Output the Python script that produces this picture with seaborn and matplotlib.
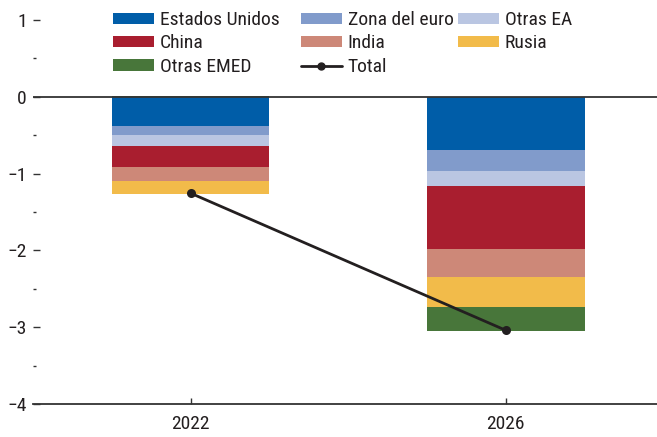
import matplotlib
matplotlib.use("Agg")
import matplotlib.pyplot as plt
from matplotlib.ticker import MultipleLocator
from matplotlib.patches import Patch
from matplotlib.lines import Line2D
import numpy as np
import seaborn as sns

years = ["2022", "2026"]
series = ["Estados Unidos", "Zona del euro", "Otras EA", "China", "India", "Rusia", "Otras EMED"]
estados_unidos = [-0.38, -0.69]
zona_euro = [-0.12, -0.27]
otras_ea = [-0.14, -0.20]
china = [-0.28, -0.82]
india = [-0.17, -0.37]
rusia = [-0.18, -0.39]
otras_emed = [0.015, -0.31]
total = [-1.255, -3.04]
colors = ["#005DA8", "#819BCB", "#BAC6E2", "#A91E2F", "#CD8878", "#F2BB4A", "#48763A"]

values = [estados_unidos, zona_euro, otras_ea, china, india, rusia, otras_emed]

sns.set_theme(style="white")
plt.rcParams["font.family"] = ["Roboto Condensed", "DejaVu Sans"]
text_color = "#231F20"

fig = plt.figure(figsize=(6.57, 4.37), dpi=100)
ax = fig.add_axes([33 / 657, 33 / 437, 1 - 33 / 657, (404 - 20) / 437])

neg_base = np.zeros(len(years))
pos_base = np.zeros(len(years))
for name, vals, c in zip(series, values, colors):
    vals = np.array(vals, dtype=float)
    bottoms = np.where(vals < 0, neg_base, pos_base)
    sns.barplot(x=years, y=vals, bottom=bottoms, color=c, width=0.5,
                saturation=1, linewidth=0, ax=ax, zorder=2)
    neg_base = neg_base + np.where(vals < 0, vals, 0)
    pos_base = pos_base + np.where(vals > 0, vals, 0)

sns.pointplot(x=years, y=total, color="#231F20", markers="o", markersize=5,
              linewidth=2, ax=ax, zorder=4)

ax.axhline(0, color="#333333", lw=1.3, zorder=3)
ax.set_ylim(-4, 1)
ax.set_xlim(-0.5, 1.48)
ax.yaxis.set_major_locator(MultipleLocator(1))
ax.yaxis.set_minor_locator(MultipleLocator(0.5))
for s in ["left", "right", "top"]:
    ax.spines[s].set_visible(False)
ax.spines["bottom"].set_color("#333333")
ax.spines["bottom"].set_linewidth(1.3)
ax.tick_params(axis="y", which="major", direction="in", length=5, width=1,
               color="#333333", pad=4.5, labelsize=14, labelcolor=text_color, left=True)
ax.tick_params(axis="y", which="minor", direction="in", length=2.5, width=1,
               color="#333333", left=True)
ax.tick_params(axis="x", which="major", direction="in", length=4, width=1,
               color="#333333", pad=8, labelsize=14, labelcolor=text_color, bottom=True)
ax.set_yticks([1, 0, -1, -2, -3, -4])
ax.set_yticklabels(["1", "0", "\u22121", "\u22122", "\u22123", "\u22124"])
ax.set_xlabel("")
ax.set_ylabel("")
ax.grid(False)

handles = [Patch(facecolor=c, edgecolor="none") for c in colors]
labels = list(series)
handles.append(Line2D([0], [0], color="#231F20", lw=2, marker="o", markersize=5))
labels.append("Total")

columns = [[0, 3, 6], [1, 4, 7], [2, 5]]
col_x = [113, 301, 458]
for idxs, x0 in zip(columns, col_x):
    leg = fig.legend([handles[i] for i in idxs], [labels[i] for i in idxs],
                     ncol=1, loc="upper left", bbox_to_anchor=(x0 / 657, 1 - 11 / 437),
                     frameon=False, fontsize=14, handlelength=2.1, handleheight=0.5,
                     handletextpad=0.3, labelspacing=0.28,
                     borderpad=0, borderaxespad=0)
    for t in leg.get_texts():
        t.set_color(text_color)

fig.savefig("out.png", dpi=100)
